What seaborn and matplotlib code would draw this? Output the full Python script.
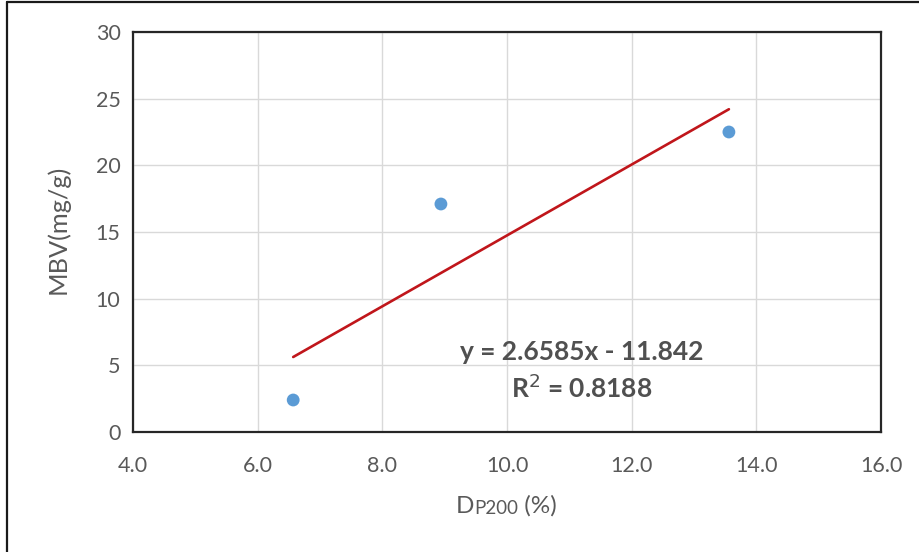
import matplotlib
matplotlib.use("Agg")
import matplotlib.pyplot as plt
import seaborn as sns
import numpy as np
import pandas as pd

# Measured samples
dp200 = [6.57, 8.94, 13.56]
mbv = [2.4, 17.1, 22.5]

# Linear trendline (Excel fit)
slope = 2.6585
intercept = -11.842
r_squared = 0.8188

x_ticks = [4.0, 6.0, 8.0, 10.0, 12.0, 14.0, 16.0]
y_ticks = [0, 5, 10, 15, 20, 25, 30]

sns.set_theme(style="white")
plt.rcParams["font.family"] = ["Lato", "DejaVu Sans"]

W, H = 920, 552
fig = plt.figure(figsize=(W / 100, H / 100), dpi=100)
ax = fig.add_axes([133 / W, 1 - 432 / H, (881 - 133) / W, (432 - 32) / H])

df = pd.DataFrame({"x": dp200, "y": mbv})

# trendline across the data range
xl = np.array([min(dp200), max(dp200)])
ax.plot(xl, slope * xl + intercept, color="#C0161B", lw=1.9, zorder=3,
        solid_capstyle="round")

sns.scatterplot(data=df, x="x", y="y", ax=ax, color="#5B9BD5", s=85,
                edgecolor="none", zorder=4, legend=False)

ax.set_xlim(4, 16)
ax.set_ylim(0, 30)
ax.set_xticks(x_ticks)
ax.set_xticklabels([f"{v:.1f}" for v in x_ticks])
ax.set_yticks(y_ticks)
ax.set_yticklabels([str(v) for v in y_ticks])
ax.grid(True, color="#D9D9D9", lw=1.0)
ax.set_axisbelow(True)
for sp in ax.spines.values():
    sp.set_color("#262626")
    sp.set_linewidth(1.6)
ax.tick_params(axis="both", length=0, labelsize=15.5, labelcolor="#595959")
ax.tick_params(axis="x", pad=17)
ax.tick_params(axis="y", pad=9)

ax.set_xlabel("")
ax.set_ylabel("")
fig.text(58 / W, 1 - 229 / H, "MBV(mg/g)", fontsize=18.3, color="#595959",
         rotation=90, ha="center", va="center")

# x-axis label: "D" followed by small-caps "P200", then "(%)"
t1 = fig.text(456 / W, 1 - 513 / H, "D", fontsize=17.5, color="#595959",
              ha="left", va="baseline")
t2 = ax.annotate("P200", xy=(1, 0), xycoords=t1, fontsize=13.5,
                 color="#595959", ha="left", va="bottom")
ax.annotate(" (%)", xy=(1, 0), xycoords=t2, fontsize=17.5, color="#595959",
            ha="left", va="bottom")

# trendline equation
ax.text(11.2, 6.0, f"y = {slope}x - {abs(intercept)}", fontsize=19,
        fontweight="bold", color="#505050", ha="center", va="center")
ax.text(11.2, 3.3, f"R$^2$ = {r_squared}", fontsize=19,
        fontweight="bold", color="#505050", ha="center", va="center")

# outer chart frame (top and left edges visible)
fig.add_artist(plt.Line2D([7 / W, 1], [1 - 2 / H, 1 - 2 / H],
                          transform=fig.transFigure, color="#1a1a1a", lw=1.6))
fig.add_artist(plt.Line2D([7 / W, 7 / W], [0, 1 - 2 / H],
                          transform=fig.transFigure, color="#1a1a1a", lw=1.6))

fig.savefig("out.png", dpi=100)
